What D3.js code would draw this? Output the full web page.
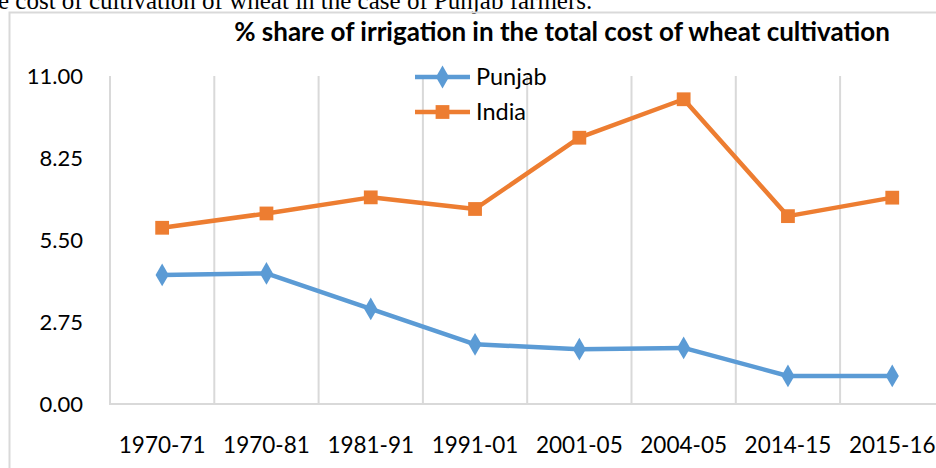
<!DOCTYPE html>
<html>
<head>
<meta charset="utf-8">
<script src="https://cdn.jsdelivr.net/npm/d3@7"></script>
<style>
  body { margin: 0; background: #fff; }
  svg { display: block; }
</style>
</head>
<body>
<div id="chart"></div>
<script>
const periods = ["1970-71", "1970-81", "1981-91", "1991-01", "2001-05", "2004-05", "2014-15", "2015-16"];
const punjab = [4.33, 4.38, 3.19, 2.00, 1.84, 1.88, 0.94, 0.94];
const india = [5.91, 6.39, 6.93, 6.54, 8.93, 10.22, 6.30, 6.92];
const yTicks = [0, 2.75, 5.5, 8.25, 11];

const W = 936, H = 468;
const margin = {top: 76, left: 110, bottom: 64};
const bandW = 104.3;
const font = "Lato, 'Open Sans', sans-serif";

const svg = d3.select("#chart")
  .append("svg")
  .attr("width", W)
  .attr("height", H);

// bit of the page text above the chart (cut off in the source too)
svg.append("text")
  .attr("x", -2)
  .attr("y", 9)
  .attr("font-family", "'Liberation Serif', serif")
  .attr("font-size", 25)
  .attr("fill", "#000")
  .text("e cost of cultivation of wheat in the case of Punjab farmers.");

// chart frame
svg.append("path")
  .attr("d", `M9.5,${H + 2}V12.5H${W + 2}`)
  .attr("fill", "none")
  .attr("stroke", "#d9d9d9")
  .attr("stroke-width", 2);

const x = d3.scaleBand()
  .domain(periods)
  .range([margin.left, margin.left + bandW * periods.length]);

const y = d3.scaleLinear()
  .domain([0, 11])
  .range([H - margin.bottom, margin.top]);

// vertical gridlines at category boundaries
const edges = periods.map(p => x(p)).concat([x.range()[1]]);
svg.append("g")
  .selectAll("line")
  .data(edges)
  .join("line")
  .attr("x1", d => d).attr("x2", d => d)
  .attr("y1", y(11)).attr("y2", y(0))
  .attr("stroke", "#d9d9d9")
  .attr("stroke-width", 2);

// baseline
svg.append("line")
  .attr("x1", margin.left - 1).attr("x2", W + 2)
  .attr("y1", y(0)).attr("y2", y(0))
  .attr("stroke", "#d9d9d9")
  .attr("stroke-width", 2);

// y axis
const yAxis = svg.append("g")
  .attr("transform", `translate(${margin.left},0)`)
  .call(d3.axisLeft(y).tickValues(yTicks).tickFormat(d3.format(".2f")).tickSize(0).tickPadding(27));
yAxis.select(".domain").remove();
yAxis.selectAll("text")
  .attr("font-family", font)
  .attr("font-size", 22)
  .attr("fill", "#000");

// x axis
const xAxis = svg.append("g")
  .attr("transform", `translate(0,${y(0)})`)
  .call(d3.axisBottom(x).tickSize(0).tickPadding(33));
xAxis.select(".domain").remove();
xAxis.selectAll("text")
  .attr("font-family", font)
  .attr("font-size", 22.5)
  .attr("fill", "#000");

// title
svg.append("text")
  .attr("x", 562)
  .attr("y", 41)
  .attr("text-anchor", "middle")
  .attr("font-family", font)
  .attr("font-weight", "bold")
  .attr("font-size", 26)
  .attr("fill", "#000")
  .text("% share of irrigation in the total cost of wheat cultivation");

const cx = p => x(p) + x.bandwidth() / 2;

const series = [
  {name: "Punjab", values: punjab, color: "#5b9bd5", shape: d3.symbolDiamond, size: 150},
  {name: "India", values: india, color: "#ed7d31", shape: d3.symbolSquare, size: 190}
];

const line = d3.line()
  .x(d => cx(d.p))
  .y(d => y(d.v));

series.forEach(s => {
  const pts = periods.map((p, i) => ({p: p, v: s.values[i]}));
  svg.append("path")
    .datum(pts)
    .attr("d", line)
    .attr("fill", "none")
    .attr("stroke", s.color)
    .attr("stroke-width", 4.5)
    .attr("stroke-linejoin", "round");
  svg.append("g")
    .selectAll("path")
    .data(pts)
    .join("path")
    .attr("transform", d => `translate(${cx(d.p)},${y(d.v)})`)
    .attr("d", d3.symbol().type(s.shape).size(s.size))
    .attr("fill", s.color);
});

// legend
const legend = svg.append("g")
  .selectAll("g")
  .data(series)
  .join("g")
  .attr("transform", (d, i) => `translate(415,${77 + i * 35})`);
legend.append("line")
  .attr("x1", 0).attr("x2", 55)
  .attr("stroke", d => d.color)
  .attr("stroke-width", 4.5);
legend.append("path")
  .attr("transform", "translate(27.5,0)")
  .attr("d", d => d3.symbol().type(d.shape).size(d.size)())
  .attr("fill", d => d.color);
legend.append("text")
  .attr("x", 61)
  .attr("dy", "0.35em")
  .attr("font-family", font)
  .attr("font-size", 23.5)
  .attr("fill", "#000")
  .text(d => d.name);
</script>
</body>
</html>
